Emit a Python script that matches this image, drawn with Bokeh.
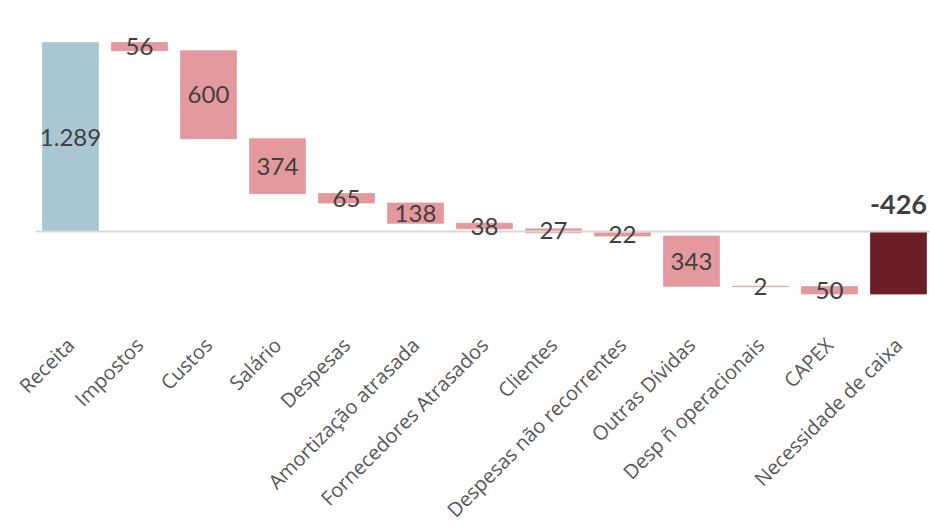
from bokeh.plotting import figure
from bokeh.models import ColumnDataSource
from bokeh.core.properties import value
from bokeh.embed import file_html
from bokeh.resources import INLINE

categories = ["Receita", "Impostos", "Custos", "Salário", "Despesas",
              "Amortização atrasada", "Fornecedores Atrasados", "Clientes",
              "Despesas não recorrentes", "Outras Dívidas", "Desp ñ operacionais",
              "CAPEX", "Necessidade de caixa"]
changes = [1289, -56, -600, -374, -65, -138, -38, -27, -22, -343, -2, -50]

C_START = "#A8C7D3"
C_DEC = "#E3999E"
C_TOTAL = "#6C1D26"

xs, tops, bottoms, colors, labels, mids = [], [], [], [], [], []
run = 0
for i, ch in enumerate(changes):
    start = run
    run += ch
    xs.append(i)
    tops.append(max(start, run))
    bottoms.append(min(start, run))
    colors.append(C_START if i == 0 else C_DEC)
    labels.append(f"{abs(ch):,}".replace(",", "."))
    mids.append((start + run) / 2)
# total bar
n = len(changes)
xs.append(n)
tops.append(max(0, run))
bottoms.append(min(0, run))
colors.append(C_TOTAL)

src = ColumnDataSource(dict(x=xs, top=tops, bottom=bottoms, color=colors))
lab_src = ColumnDataSource(dict(x=xs[:n], y=mids, text=labels))

X0, X1 = -1.0145, 12.464
p = figure(width=930, height=529, output_backend="svg", toolbar_location=None,
           x_range=(X0, X1), y_range=(-2033, 1576),
           min_border_left=0, min_border_right=0, min_border_top=0,
           min_border_bottom=0)
p.outline_line_color = None
p.xgrid.visible = False
p.ygrid.visible = False
p.yaxis.visible = False
p.background_fill_color = "white"
p.border_fill_color = "white"

p.vbar(x="x", top="top", bottom="bottom", width=0.81, fill_color="color",
       line_color="color", line_width=0.8, source=src)

# zero baseline, starting at the left edge of the category area
p.segment(x0=[-0.507], y0=[0], x1=[X1], y1=[0], line_color="#D9D9D9", line_width=2)

p.text(x="x", y="y", text="text", source=lab_src, text_align="center",
       text_baseline="middle", text_font=value("Lato"), text_font_size="24px",
       text_color="#404040")
p.text(x=[n], y=[0], text=[f"{run}"], text_align="center", text_baseline="middle",
       y_offset=-27, text_font=value("Lato"), text_font_size="27px",
       text_font_style="bold", text_color="#404040")

ax = p.xaxis[0]
ax.fixed_location = -640
ax.ticker = list(range(len(categories)))
ax.major_label_overrides = {i: c for i, c in enumerate(categories)}
ax.major_label_orientation = 0.785398
ax.axis_line_color = None
ax.major_tick_line_color = None
ax.minor_tick_line_color = None
ax.major_label_text_font = "Open Sans"
ax.major_label_text_font_size = "20px"
ax.major_label_text_color = "#595959"
ax.major_label_standoff = 10

open("out.html", "w").write(file_html(p, INLINE))
